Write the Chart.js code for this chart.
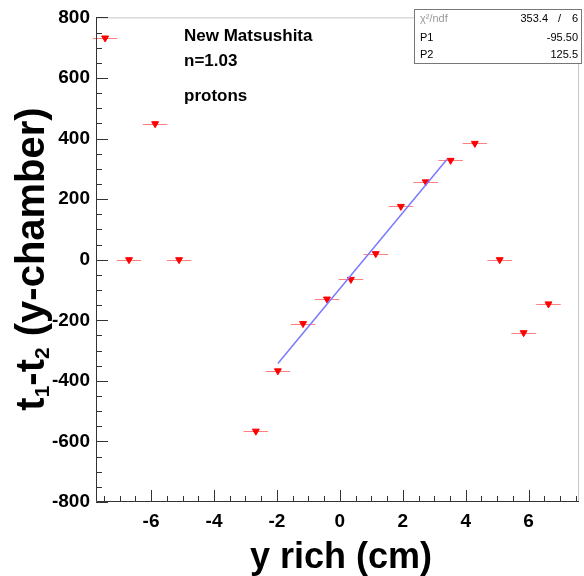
<!DOCTYPE html>
<html>
<head>
<meta charset="utf-8">
<script src="https://cdn.jsdelivr.net/npm/chart.js@4.4.1/dist/chart.umd.min.js"></script>
<style>
  html, body { margin: 0; padding: 0; background: #fff; }
  #wrap { width: 584px; height: 576px; }
</style>
</head>
<body>
<div id="wrap"><canvas id="myChart" width="584" height="576"></canvas></div>
<script>
// measured points (bin centres) and the fit segment
const xVals = [-7.46, -6.70, -5.87, -5.11, -2.67, -1.97, -1.17, -0.41, 0.35, 1.14, 1.94, 2.73, 3.52, 4.29, 5.08, 5.84, 6.63];
const yVals = [732, 0, 449, 0, -566, -367, -211, -130, -65, 20, 176, 257, 328, 384, 0, -241, -146];
const xErr = [0.39, 0.39, 0.39, 0.39, 0.39, 0.39, 0.39, 0.39, 0.39, 0.39, 0.39, 0.39, 0.39, 0.39, 0.39, 0.39, 0.39];
const fitX = [-1.97, 3.40];
const fitY = [-343, 331];

const xTicks = [-6, -4, -2, 0, 2, 4, 6];
const yTicks = [-800, -600, -400, -200, 0, 200, 400, 600, 800];

const infoLines = ["New Matsushita", "n=1.03", "protons"];
const statNames = ["P1", "P2"];
const statValues = ["-95.50", "125.5"];
const chi2 = "353.4";
const ndf = "6";

const FONT = "'Liberation Sans', Arial, Helvetica, sans-serif";
Chart.defaults.font.family = FONT;

/**
 * horizontal error bars under the markers
 */
const errorBars = {
    id: "errorBars",
    beforeDatasetsDraw (chart)
    {
        const ctx = chart.ctx;
        const xs = chart.scales.x;
        const ys = chart.scales.y;
        ctx.save();
        ctx.strokeStyle = "#ff8080";
        ctx.lineWidth = 1;
        xVals.forEach((x, i) => {
            const py = Math.round(ys.getPixelForValue(yVals[i])) + 0.5;
            ctx.beginPath();
            ctx.moveTo(xs.getPixelForValue(x - xErr[i]), py);
            ctx.lineTo(xs.getPixelForValue(x + xErr[i]), py);
            ctx.stroke();
        });
        ctx.restore();
    }
};

/**
 * ROOT-like frame with ticks pointing inside, titles, labels and the stats box
 */
const decorations = {
    id: "decorations",
    afterDraw (chart)
    {
        const ctx = chart.ctx;
        const a = chart.chartArea;
        const xs = chart.scales.x;
        const ys = chart.scales.y;
        ctx.save();

        // frame
        ctx.lineWidth = 1;
        ctx.strokeStyle = "#c8c8c8";
        ctx.beginPath();
        ctx.moveTo(a.left, a.top + 0.5);
        ctx.lineTo(a.right - 0.5, a.top + 0.5);
        ctx.lineTo(a.right - 0.5, a.bottom);
        ctx.stroke();
        ctx.strokeStyle = "#333";
        ctx.beginPath();
        ctx.moveTo(a.left + 0.5, a.top);
        ctx.lineTo(a.left + 0.5, a.bottom - 0.5);
        ctx.lineTo(a.right, a.bottom - 0.5);
        ctx.stroke();

        // x ticks, minor every 0.5
        ctx.beginPath();
        for (let v = -7.5; v <= xs.max; v += 0.5) {
            const px = Math.round(xs.getPixelForValue(v)) + 0.5;
            const len = (Math.abs(v % 2) < 1e-6) ? 12 : 6;
            ctx.moveTo(px, a.bottom);
            ctx.lineTo(px, a.bottom - len);
        }
        // y ticks, minor every 50
        for (let v = -800; v <= 800; v += 50) {
            const py = Math.round(ys.getPixelForValue(v)) + 0.5;
            const len = (v % 200 === 0) ? 12 : 6;
            ctx.moveTo(a.left, py);
            ctx.lineTo(a.left + len, py);
        }
        ctx.stroke();

        ctx.fillStyle = "#000";

        // x title
        ctx.font = `bold 36px ${FONT}`;
        ctx.textAlign = "center";
        ctx.textBaseline = "alphabetic";
        ctx.fillText("y rich (cm)", 341, 568);

        // y title with subscripts, rotated
        const big = `bold 40px ${FONT}`;
        const small = `bold 21px ${FONT}`;
        const parts = [
            {t: "t", f: big, dy: 0},
            {t: "1", f: small, dy: 5},
            {t: "-t", f: big, dy: 0},
            {t: "2", f: small, dy: 5},
            {t: " (y-chamber)", f: big, dy: 0}
        ];
        let total = 0;
        parts.forEach(p => { ctx.font = p.f; p.w = ctx.measureText(p.t).width; total += p.w; });
        ctx.translate(44, 259);
        ctx.rotate(-Math.PI / 2);
        ctx.textAlign = "left";
        let cx = -total / 2;
        parts.forEach(p => {
            ctx.font = p.f;
            ctx.fillText(p.t, cx, p.dy);
            cx += p.w;
        });
        ctx.setTransform(1, 0, 0, 1, 0, 0);

        // info text
        ctx.font = `bold 17px ${FONT}`;
        ctx.textAlign = "left";
        const infoY = [41, 66, 101];
        infoLines.forEach((t, i) => ctx.fillText(t, 184, infoY[i]));

        // stats box
        ctx.fillStyle = "#fff";
        ctx.fillRect(414, 9, 167, 54);
        ctx.strokeStyle = "#777";
        ctx.strokeRect(414.5, 9.5, 167, 54);
        ctx.font = `11px ${FONT}`;
        ctx.fillStyle = "#9a9a9a";
        ctx.fillText("\u03c7\u00b2/ndf", 420, 22);
        ctx.fillStyle = "#000";
        ctx.textAlign = "right";
        ctx.fillText(chi2, 548, 22);
        ctx.fillText("/", 561, 22);
        ctx.fillText(ndf, 578, 22);
        const rowY = [41, 58];
        statNames.forEach((n, i) => {
            ctx.textAlign = "left";
            ctx.fillText(n, 420, rowY[i]);
            ctx.textAlign = "right";
            ctx.fillText(statValues[i], 578, rowY[i]);
        });

        ctx.restore();
    }
};

const points = xVals.map((x, i) => ({x: x, y: yVals[i]}));
const fitLine = fitX.map((x, i) => ({x: x, y: fitY[i]}));

new Chart(document.getElementById("myChart"), {
    type: "scatter",
    data: {
        datasets: [
            {
                label: "fit",
                data: fitLine,
                showLine: true,
                borderColor: "#7a7aff",
                borderWidth: 1.5,
                pointRadius: 0,
                fill: false
            },
            {
                label: "data",
                data: points,
                pointStyle: "triangle",
                rotation: 180,
                pointRadius: 4,
                backgroundColor: "#ff0000",
                borderColor: "#ff0000",
                borderWidth: 1
            }
        ]
    },
    options: {
        responsive: false,
        animation: false,
        layout: {padding: {top: 10, right: 2, left: 0, bottom: 0}},
        plugins: {legend: {display: false}, tooltip: {enabled: false}},
        scales: {
            x: {
                type: "linear",
                min: -7.75,
                max: 7.6,
                afterFit: (scale) => { scale.height = 74; },
                afterBuildTicks: (scale) => { scale.ticks = xTicks.map(v => ({value: v})); },
                grid: {display: false, drawTicks: false},
                border: {display: false},
                ticks: {
                    color: "#000",
                    padding: 8,
                    maxRotation: 0,
                    font: {size: 19, weight: "bold"}
                }
            },
            y: {
                min: -800,
                max: 800,
                afterFit: (scale) => { scale.width = 96; },
                afterBuildTicks: (scale) => { scale.ticks = yTicks.map(v => ({value: v})); },
                grid: {display: false, drawTicks: false},
                border: {display: false},
                ticks: {
                    color: "#000",
                    padding: 6,
                    font: {size: 19, weight: "bold"}
                }
            }
        }
    },
    plugins: [errorBars, decorations]
});
</script>
</body>
</html>
